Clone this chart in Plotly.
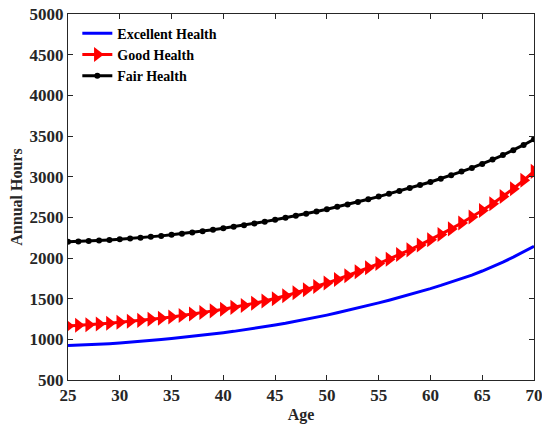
import plotly.graph_objects as go

ages = list(range(25, 71))

excellent_health = [
    925, 929, 934, 940, 947, 955, 964, 974, 985, 997,
    1010, 1023, 1037, 1051, 1066, 1082, 1098, 1115, 1133, 1152,
    1175, 1197, 1220, 1245, 1271, 1298, 1326, 1355, 1385, 1416,
    1448, 1481, 1515, 1550, 1586, 1624, 1663, 1704, 1746, 1790,
    1840, 1893, 1949, 2011, 2076, 2145,
]

good_health = [
    1165, 1172, 1180, 1189, 1199, 1210, 1221, 1233, 1246, 1260,
    1276, 1293, 1311, 1330, 1350, 1371, 1393, 1417, 1445, 1472,
    1500, 1535, 1572, 1610, 1650, 1692, 1736, 1782, 1830, 1880,
    1932, 1986, 2042, 2100, 2161, 2224, 2290, 2358, 2430, 2505,
    2585, 2668, 2757, 2852, 2955, 3065,
]

fair_health = [
    2200, 2204, 2209, 2215, 2222, 2230, 2239, 2249, 2260, 2272,
    2285, 2299, 2314, 2330, 2347, 2365, 2384, 2404, 2425, 2447,
    2470, 2494, 2519, 2545, 2572, 2600, 2629, 2659, 2690, 2722,
    2755, 2789, 2824, 2860, 2897, 2935, 2975, 3016, 3062, 3108,
    3157, 3210, 3265, 3325, 3390, 3460,
]

x_ticks = [25, 30, 35, 40, 45, 50, 55, 60, 65, 70]
y_ticks = [500, 1000, 1500, 2000, 2500, 3000, 3500, 4000, 4500, 5000]

FONT = "Liberation Serif"

fig = go.Figure()
fig.add_trace(go.Scatter(
    x=ages, y=excellent_health, mode="lines", name="<b>Excellent Health</b>",
    line=dict(color="#0000ff", width=3),
))
fig.add_trace(go.Scatter(
    x=ages, y=good_health, mode="lines+markers", name="<b>Good Health</b>",
    line=dict(color="#ff0000", width=3),
    marker=dict(symbol="triangle-right", size=13, color="#ff0000"),
))
fig.add_trace(go.Scatter(
    x=ages, y=fair_health, mode="lines+markers", name="<b>Fair Health</b>",
    line=dict(color="#000000", width=3),
    marker=dict(symbol="circle", size=6, color="#000000"),
))

axis_common = dict(
    showgrid=False, zeroline=False, automargin=False,
    showline=True, linecolor="#262626", linewidth=1,
    mirror="allticks", ticks="inside", ticklen=5, tickcolor="#262626",
    ticklabeloverflow="allow",
    tickfont=dict(family=FONT, size=17, color="#262626", weight="bold"),
)

fig.update_layout(
    width=542, height=431,
    margin=dict(l=68, r=8, t=14, b=51),
    paper_bgcolor="white", plot_bgcolor="white",
    font=dict(family=FONT, color="#262626"),
    showlegend=True,
    legend=dict(
        x=0.02, y=0.99, xanchor="left", yanchor="top",
        bgcolor="rgba(255,255,255,0)", borderwidth=0,
        font=dict(family=FONT, size=14, color="#000000"),
        itemwidth=30, tracegroupgap=0,
    ),
    xaxis=dict(
        range=[25, 70], tickvals=x_ticks,
        title=dict(text="<b>Age</b>", font=dict(family=FONT, size=16, color="#262626"), standoff=4),
        **axis_common,
    ),
    yaxis=dict(
        range=[500, 5000], tickvals=y_ticks,
        title=dict(text="<b>Annual Hours</b>", font=dict(family=FONT, size=16, color="#262626"), standoff=2),
        **axis_common,
    ),
)

fig.write_html("out.html")
